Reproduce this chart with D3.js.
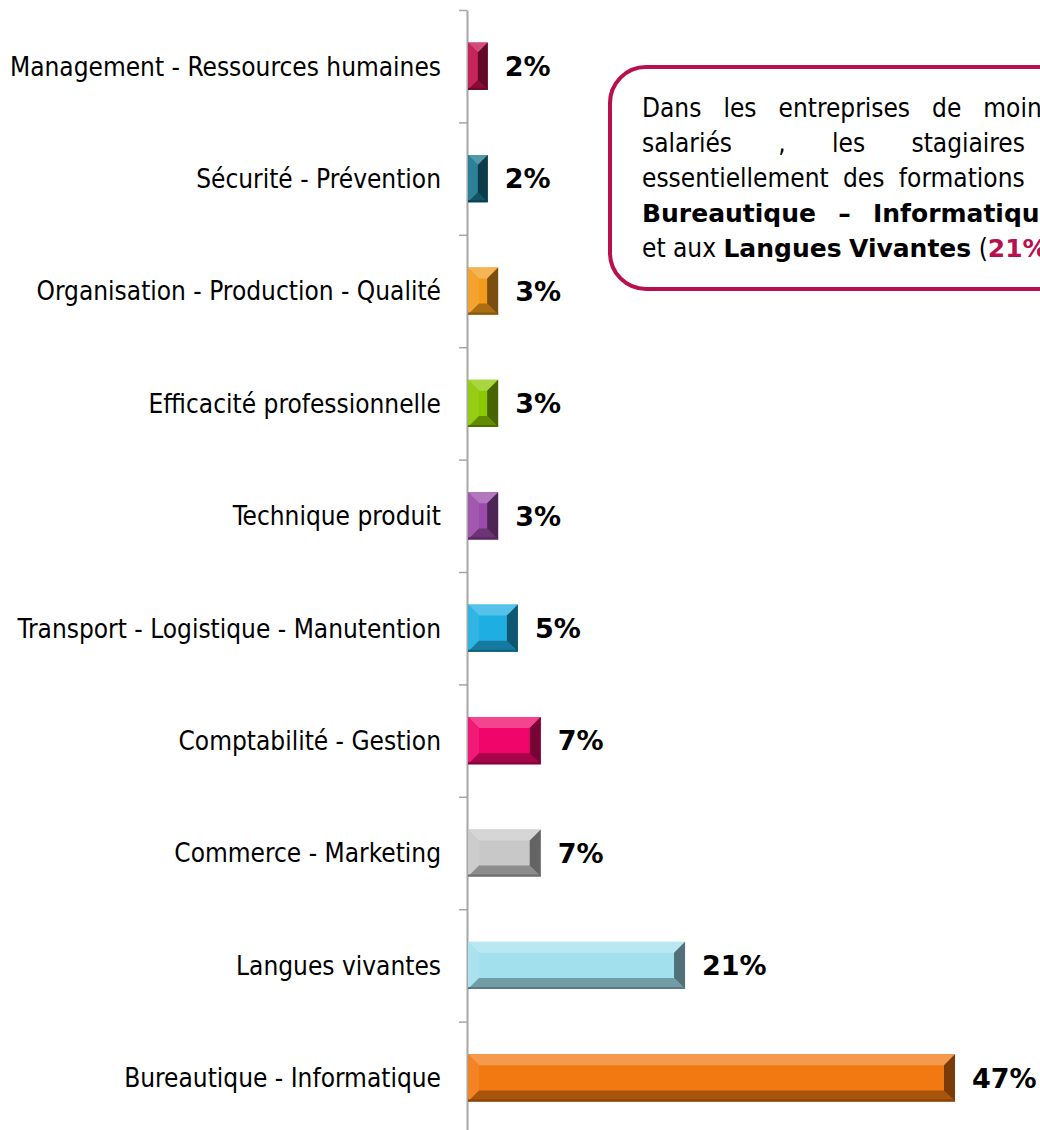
<!DOCTYPE html>
<html>
<head>
<meta charset="utf-8">
<script src="https://cdn.jsdelivr.net/npm/d3@7"></script>
<style>
  body { margin: 0; background: #fff; }
  svg { display: block; }
</style>
</head>
<body>
<div class="graph"></div>
<script>
// categories, top to bottom
const categories = [
  'Management - Ressources humaines',
  'Sécurité - Prévention',
  'Organisation - Production - Qualité',
  'Efficacité professionnelle',
  'Technique produit',
  'Transport - Logistique - Manutention',
  'Comptabilité - Gestion',
  'Commerce - Marketing',
  'Langues vivantes',
  'Bureautique - Informatique'
];
const values = [2, 2, 3, 3, 3, 4.9, 7.1, 7.1, 21, 47];
const valueLabels = ['2%', '2%', '3%', '3%', '3%', '5%', '7%', '7%', '21%', '47%'];
const barColors = ['#c2114d', '#1a7690', '#f39c1c', '#8cc800', '#9a4aa8',
                   '#1eaee2', '#f0066a', '#c8c8c8', '#a3e0ee', '#f27812'];

// callout text, one entry per line, words made of [text, style] pieces
const calloutLines = [
  [[['Dans', 'n']], [['les', 'n']], [['entreprises', 'n']], [['de', 'n']], [['moins', 'n']], [['de', 'n']], [['10', 'n']]],
  [[['salariés', 'n']], [[',', 'n']], [['les', 'n']], [['stagiaires', 'n']], [['suivent', 'n']]],
  [[['essentiellement', 'n']], [['des', 'n']], [['formations', 'n']], [['liées', 'n']], [['à', 'n']], [['la', 'n']]],
  [[['Bureautique', 'b']], [['–', 'b']], [['Informatique', 'b']], [['(', 'n'], ['47%', 'r'], [')', 'n']]],
  [[['et', 'n']], [['aux', 'n']], [['Langues', 'b']], [['Vivantes', 'b']], [['(', 'n'], ['21%', 'r'], [').', 'n']]]
];

const W = 1040, H = 1130;
const font = '"DejaVu Sans Condensed", "DejaVu Sans", Verdana, sans-serif';
const boldFont = '"DejaVu Sans", Verdana, sans-serif';

const svg = d3.select('.graph').append('svg').attr('width', W).attr('height', H);

const axisX = 467;
const y = d3.scaleBand().domain(categories).range([10, 1134]).paddingInner(0.58).paddingOuter(0.29);
const yTicks = d3.scaleLinear().domain([0, categories.length]).range([10, 1134]);
const x = d3.scaleLinear().domain([0, 47]).range([axisX, 955]);

// axis line with ticks between categories
const axis = svg.append('g').attr('transform', `translate(${axisX},0)`)
  .call(d3.axisLeft(yTicks).tickValues(d3.range(0, categories.length + 1)).tickFormat('').tickSize(8).tickSizeOuter(0));
axis.select('.domain').attr('stroke', '#a6a6a6').attr('stroke-width', 2);
axis.selectAll('.tick line').attr('stroke', '#a6a6a6').attr('stroke-width', 1.5);

// category labels
svg.append('g').selectAll('text').data(categories).join('text')
  .attr('x', 441).attr('y', d => y(d) + y.bandwidth() / 2)
  .attr('dy', '0.36em').attr('text-anchor', 'end')
  .style('font-family', font).style('font-size', '26px').attr('fill', '#000')
  .text(d => d);

// bevelled bars
const bars = svg.append('g').selectAll('g').data(categories).join('g');
bars.each(function (d, i) {
  const g = d3.select(this);
  const x0 = x(0) + 1, x1 = x(values[i]);
  const y0 = y(d), y1 = y(d) + y.bandwidth();
  const b = Math.min(11, (x1 - x0) / 2, (y1 - y0) / 2);
  const c = barColors[i];
  const light = d3.interpolateRgb(c, '#fff');
  const dark = d3.interpolateRgb(c, '#000');
  g.append('rect').attr('x', x0).attr('y', y0).attr('width', x1 - x0).attr('height', y1 - y0).attr('fill', c);
  const poly = (pts, fill) => g.append('polygon').attr('points', pts.map(p => p.join(',')).join(' ')).attr('fill', fill);
  poly([[x0, y0], [x1, y0], [x1 - b, y0 + b], [x0 + b, y0 + b]], light(0.25));
  poly([[x0, y0], [x0 + b, y0 + b], [x0 + b, y1 - b], [x0, y1]], light(0.08));
  poly([[x0, y1], [x1, y1], [x1 - b, y1 - b], [x0 + b, y1 - b]], dark(0.3));
  poly([[x1, y0], [x1 - b, y0 + b], [x1 - b, y1 - b], [x1, y1]], dark(0.5));
  g.append('line').attr('x1', x0).attr('x2', x1).attr('y1', y1 - 1).attr('y2', y1 - 1).attr('stroke', dark(0.45)).attr('stroke-width', 2);
});

// value labels
svg.append('g').selectAll('text').data(categories).join('text')
  .attr('x', (d, i) => x(values[i]) + 17).attr('y', d => y(d) + y.bandwidth() / 2)
  .attr('dy', '0.36em')
  .style('font-family', boldFont).style('font-size', '27px').style('font-weight', 'bold')
  .text((d, i) => valueLabels[i]);

// callout box (runs off the right edge)
const box = { x: 610, y: 67, w: 580, h: 222 };
svg.append('rect').attr('x', box.x).attr('y', box.y).attr('width', box.w).attr('height', box.h)
  .attr('rx', 36).attr('fill', '#fff').attr('stroke', '#b8104f').attr('stroke-width', 4);

const textLeft = 642, textWidth = 515, lineH = 35, firstBase = 117;
const styles = {
  n: { family: font, size: '26px', weight: 'normal', fill: '#000' },
  b: { family: boldFont, size: '25px', weight: 'bold', fill: '#000' },
  r: { family: boldFont, size: '25px', weight: 'bold', fill: '#b8104f' }
};
const measure = svg.append('text').attr('visibility', 'hidden');
const styled = (sel, s) => sel.style('font-family', styles[s].family).style('font-size', styles[s].size).style('font-weight', styles[s].weight);
const pieceW = (t, s) => {
  styled(measure, s).text(t);
  return measure.node().getComputedTextLength();
};
const spaceW = pieceW('a a', 'n') - pieceW('aa', 'n');

const callout = svg.append('g');
calloutLines.forEach((line, li) => {
  const wordW = line.map(w => d3.sum(w, p => pieceW(p[0], p[1])));
  const justify = li < calloutLines.length - 1;
  const gap = justify ? (textWidth - d3.sum(wordW)) / (line.length - 1) : spaceW;
  let cx = textLeft;
  const t = callout.append('text').attr('y', firstBase + li * lineH);
  line.forEach((w, wi) => {
    let px = cx;
    w.forEach(p => {
      styled(t.append('tspan').attr('x', px), p[1]).attr('fill', styles[p[1]].fill).text(p[0]);
      px += pieceW(p[0], p[1]);
    });
    cx += wordW[wi] + gap;
  });
});
measure.remove();
</script>
</body>
</html>
